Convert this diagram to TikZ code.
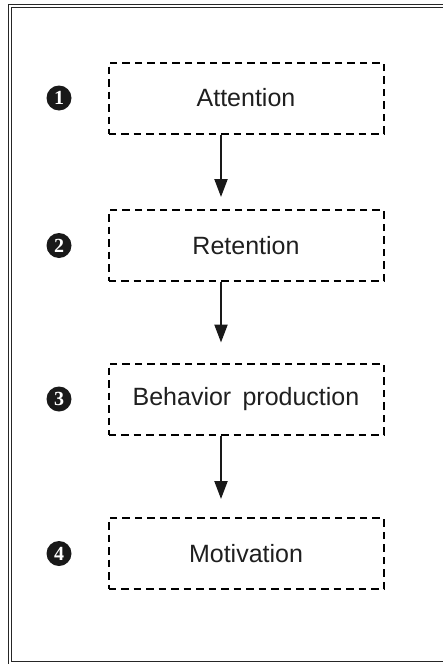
\documentclass[tikz,border=0pt]{standalone}
\usepackage{fontspec}
\setmainfont{Liberation Sans}
\newfontfamily\numfont{Liberation Serif}
\usetikzlibrary{arrows.meta}

\tikzset{
  frameline/.style={line width=1.3pt, black!85},
  stage/.style={draw, line width=2pt, dash pattern=on 7.5pt off 5pt,
    minimum width=275pt, minimum height=71pt, inner sep=0pt,
    font=\fontsize{25}{30}\selectfont, text=black!88},
  badge/.style={circle, fill=black!90, text=white, minimum size=25pt,
    inner sep=0pt, font=\numfont\bfseries\fontsize{20}{20}\selectfont},
  flow/.style={line width=2.2pt, black!90,
    -{Triangle[length=18pt,width=13pt]}}
}

\begin{document}
\begin{tikzpicture}[x=1pt,y=-1pt]
\useasboundingbox (0,0) rectangle (443,664);

% double frame, open at the right
\draw[frameline] (8.5,664) -- (8.5,4.5) -- (443,4.5);
\draw[frameline] (443,661.5) -- (11.5,661.5) -- (11.5,7.5) -- (443,7.5);

% the four stages
\node[stage] (b1) at (246,98)    {Attention};
\node[stage] (b2) at (246,245.5) {Retention};
\node[stage] (b3) at (246,399)   {Behavior\hspace{0.45em}production};
\node[stage] (b4) at (246,553.5) {Motivation};

% numbered badges
\node[badge] (n1) at (59,98)    {1};
\node[badge] (n2) at (59,245.5) {2};
\node[badge] (n3) at (59,399)   {3};
\node[badge] (n4) at (59,553.5) {4};

% arrows run left of the box centres
\coordinate (ax) at (221,0);
\draw[flow, shorten >=12pt] (b1.south -| ax) -- (b2.north -| ax);
\draw[flow, shorten >=20pt] (b2.south -| ax) -- (b3.north -| ax);
\draw[flow, shorten >=18pt] (b3.south -| ax) -- (b4.north -| ax);
\end{tikzpicture}
\end{document}
